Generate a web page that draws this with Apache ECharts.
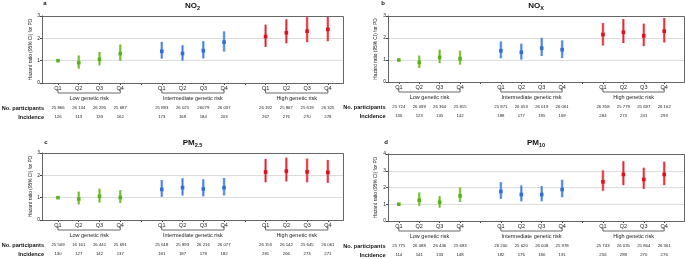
<!DOCTYPE html>
<html>
<head>
<meta charset="utf-8">
<script src="https://cdn.jsdelivr.net/npm/echarts@6/dist/echarts.min.js"></script>
<style>
  html, body { margin: 0; padding: 0; background: #fff; }
  #chart { width: 685px; height: 259px; }
</style>
</head>
<body>
<div id="chart"></div>
<script>
var quartiles = ['Q1', 'Q2', 'Q3', 'Q4'];
var groupNames = ['Low genetic risk', 'Intermediate genetic risk', 'High genetic risk'];
var slots = [0, 1, 2, 3, 5, 6, 7, 8, 10, 11, 12, 13];
var groupSpans = [[0, 3], [5, 8], [10, 13]];

// NO2
var no2Hr = [1.00, 0.91, 1.06, 1.32, 1.42, 1.32, 1.45, 1.83, 2.08, 2.25, 2.32, 2.40];
var no2Lo = [1.00, 0.64, 0.79, 1.00, 1.09, 1.00, 1.10, 1.41, 1.62, 1.78, 1.83, 1.87];
var no2Hi = [1.00, 1.23, 1.39, 1.72, 1.84, 1.69, 1.87, 2.31, 2.61, 2.85, 2.95, 3.05];
var no2N = ['25 866', '26 134', '26 295', '25 687', '25 893', '26 025', '26079', '26 037', '26 192', '25 867', '25 619', '26 325'];
var no2Inc = ['126', '113', '133', '162', '173', '169', '184', '203', '267', '276', '270', '278'];

// NOx
var noxHr = [1.00, 0.89, 1.12, 1.06, 1.42, 1.35, 1.54, 1.47, 2.16, 2.26, 2.10, 2.31];
var noxLo = [1.00, 0.64, 0.86, 0.79, 1.08, 1.02, 1.18, 1.09, 1.66, 1.77, 1.63, 1.80];
var noxHi = [1.00, 1.20, 1.47, 1.42, 1.84, 1.74, 2.01, 1.89, 2.68, 2.86, 2.65, 2.91];
var noxN = ['25 724', '26 099', '26 364', '25 815', '25 871', '26 053', '26 019', '26 061', '26 358', '25 779', '25 697', '26 162'];
var noxInc = ['136', '123', '135', '142', '188', '177', '195', '169', '284', '273', '241', '293'];

// PM2.5
var pm25Hr = [1.00, 0.94, 1.06, 1.01, 1.37, 1.45, 1.39, 1.45, 2.15, 2.19, 2.16, 2.13];
var pm25Lo = [1.00, 0.70, 0.78, 0.76, 1.04, 1.10, 1.06, 1.10, 1.69, 1.73, 1.69, 1.66];
var pm25Hi = [1.00, 1.27, 1.40, 1.34, 1.79, 1.87, 1.82, 1.88, 2.73, 2.79, 2.75, 2.69];
var pm25N = ['25 509', '16 161', '26 441', '25 691', '25 618', '25 893', '26 216', '26 077', '26 155', '26 142', '25 645', '26 061'];
var pm25Inc = ['130', '127', '142', '137', '181', '187', '179', '182', '281', '266', '273', '271'];

// PM10
var pm10Hr = [1.00, 1.24, 1.12, 1.50, 1.76, 1.58, 1.58, 1.88, 2.34, 2.78, 2.48, 2.78];
var pm10Lo = [1.00, 0.90, 0.80, 1.14, 1.32, 1.18, 1.18, 1.42, 1.80, 2.14, 1.92, 2.14];
var pm10Hi = [1.00, 1.70, 1.48, 2.00, 2.32, 2.12, 2.08, 2.46, 3.02, 3.56, 3.18, 3.54];
var pm10N = ['25 775', '26 088', '26 446', '25 693', '26 200', '25 620', '26 008', '25 978', '25 743', '26 035', '25 864', '26 361'];
var pm10Inc = ['114', '141', '133', '148', '182', '176', '180', '191', '256', '289', '270', '276'];

var darkColors = ['#5cb21c', '#2f6fd8', '#e0101c'];
var lightColors = ['#a2d46c', '#88b0ee', '#ee7a82'];
var FONT = '"Liberation Sans", Arial, sans-serif';

var panels = [
  { letter: 'a', title: '{t|NO}{s|2}', hr: no2Hr, lo: no2Lo, hi: no2Hi, n: no2N, inc: no2Inc,
    left: 42, top: 16, width: 301, height: 67, xMin: -0.77, yMax: 3, nameGap: -2, yGap: 8, letterX: 45, letterY: 3, titleY: 6 },
  { letter: 'b', title: '{t|NO}{s|X}', hr: noxHr, lo: noxLo, hi: noxHi, n: noxN, inc: noxInc,
    left: 388, top: 16, width: 296, height: 66, xMin: -0.53, yMax: 3, nameGap: 2.5, yGap: 10, letterX: 383, letterY: 3, titleY: 6 },
  { letter: 'c', title: '{t|PM}{s|2.5}', hr: pm25Hr, lo: pm25Lo, hi: pm25Hi, n: pm25N, inc: pm25Inc,
    left: 42, top: 153, width: 301, height: 67, xMin: -0.77, yMax: 3, nameGap: -2, yGap: 8, letterX: 46, letterY: 142, titleY: 143 },
  { letter: 'd', title: '{t|PM}{s|10}', hr: pm10Hr, lo: pm10Lo, hi: pm10Hi, n: pm10N, inc: pm10Inc,
    left: 388, top: 154, width: 296, height: 67, xMin: -0.53, yMax: 4, nameGap: 2.5, yGap: 10, letterX: 386, letterY: 142, titleY: 143 }
];

function errItem (params, api) {
  var x = api.value(0)
  var g = api.value(4)
  var p = api.coord([x, api.value(1)])
  var lo = api.coord([x, api.value(2)])
  var hi = api.coord([x, api.value(3)])
  return {
    type: 'group',
    children: [
      { type: 'line', shape: { x1: p[0], y1: lo[1], x2: p[0], y2: hi[1] }, style: { stroke: lightColors[g], lineWidth: 2.6 } },
      { type: 'line', shape: { x1: p[0], y1: lo[1], x2: p[0], y2: hi[1] }, style: { stroke: darkColors[g], lineWidth: 0.9 } },
      { type: 'rect', shape: { x: p[0] - 1.8, y: p[1] - 1.8, width: 3.6, height: 3.6 }, style: { fill: darkColors[g] } }
    ]
  }
}

function bracketItem (params, api) {
  var a = api.coord([api.value(0), 0])
  var b = api.coord([api.value(1), 0])
  var yb = a[1]
  return {
    type: 'group',
    children: [
      { type: 'polyline', shape: { points: [[a[0], yb + 6], [a[0], yb + 10], [b[0], yb + 10], [b[0], yb + 6]] },
        style: { stroke: '#444', lineWidth: 0.8, fill: null } },
      { type: 'text', style: { text: groupNames[params.dataIndex], x: (a[0] + b[0]) / 2, y: yb + 15.5,
        align: 'center', verticalAlign: 'middle', fontSize: 5.5, fill: '#222', fontFamily: FONT } }
    ]
  }
}

function rowAxis (i, p, offset, name, values) {
  return {
    type: 'value', gridIndex: i, position: 'bottom', offset: offset,
    min: p.xMin, max: p.xMin + 14.5,
    axisLine: { show: false, onZero: false }, axisTick: { show: false }, splitLine: { show: false },
    name: name, nameLocation: 'start', nameGap: p.nameGap,
    nameTextStyle: { fontSize: 5.6, fontWeight: 'bold', color: '#111', fontFamily: FONT, align: 'right', verticalAlign: 'middle' },
    axisLabel: {
      customValues: slots, margin: 0, verticalAlign: 'middle',
      fontSize: 4.3, color: '#222', fontFamily: FONT,
      formatter: function (v) { return values[slots.indexOf(Math.round(v))] }
    }
  }
}

var option = { animation: false, grid: [], xAxis: [], yAxis: [], series: [], graphic: [] };

panels.forEach(function (p, i) {
  option.grid.push({ left: p.left, top: p.top, width: p.width, height: p.height })
  option.xAxis.push({
    type: 'value', gridIndex: i, min: p.xMin, max: p.xMin + 14.5,
    axisLine: { onZero: false, lineStyle: { color: '#444', width: 1 } },
    axisTick: { customValues: [0, 1, 2, 3, 4, 5, 6, 7, 8, 9, 10, 11, 12, 13], length: 2, lineStyle: { color: '#444' } },
    splitLine: { show: false },
    axisLabel: {
      customValues: slots, margin: 2, fontSize: 5.5, color: '#222', fontFamily: FONT,
      formatter: function (v) { return quartiles[slots.indexOf(Math.round(v)) % 4] }
    }
  })
  option.xAxis.push(rowAxis(i, p, 25, 'No. participants', p.n))
  option.xAxis.push(rowAxis(i, p, 34, 'Incidence', p.inc))
  option.yAxis.push({
    type: 'value', gridIndex: i, min: 0, max: p.yMax, interval: 1,
    name: 'Hazard ratio (95% CI) for PD', nameLocation: 'middle', nameGap: p.yGap, nameRotate: 90,
    nameTextStyle: { fontSize: 4.8, color: '#222', fontFamily: FONT },
    axisLine: { show: true, onZero: false, lineStyle: { color: '#444', width: 1 } },
    axisTick: { show: true, length: 2, lineStyle: { color: '#444' } },
    axisLabel: { margin: 2, fontSize: 5, color: '#222', fontFamily: FONT },
    splitLine: { show: true, lineStyle: { color: '#dcdcdc', width: 1.2 } }
  })
  var data = p.hr.map(function (v, k) { return [slots[k], v, p.lo[k], p.hi[k], Math.floor(k / 4)] })
  option.series.push({
    type: 'custom', xAxisIndex: i * 3, yAxisIndex: i, clip: true, silent: true,
    encode: { x: 0, y: 1 }, data: data, renderItem: errItem
  })
  option.series.push({
    type: 'custom', xAxisIndex: i * 3, yAxisIndex: i, clip: false, silent: true,
    encode: { x: 0 }, data: groupSpans, renderItem: bracketItem
  })
  // plot frame
  option.graphic.push({
    type: 'rect', silent: true, z: 100,
    shape: { x: p.left + 0.5, y: p.top + 0.5, width: p.width, height: p.height },
    style: { fill: null, stroke: '#666', lineWidth: 1 }
  })
  option.graphic.push({
    type: 'text', x: p.letterX, y: p.letterY,
    style: { text: p.letter, fontSize: 6, fontWeight: 'bold', fill: '#111', fontFamily: FONT, align: 'center', verticalAlign: 'middle' }
  })
  option.graphic.push({
    type: 'text', x: p.left + p.width / 2, y: p.titleY,
    style: {
      text: p.title, align: 'center', verticalAlign: 'middle',
      rich: {
        t: { fontSize: 8, fontWeight: 'bold', fill: '#111', fontFamily: FONT },
        s: { fontSize: 5.5, fontWeight: 'bold', fill: '#111', fontFamily: FONT, padding: [4, 0, 0, 0] }
      }
    }
  })
})

var chart = echarts.init(document.getElementById('chart'))
chart.setOption(option)
window.addEventListener('resize', () => { chart.resize() })
</script>
</body>
</html>
